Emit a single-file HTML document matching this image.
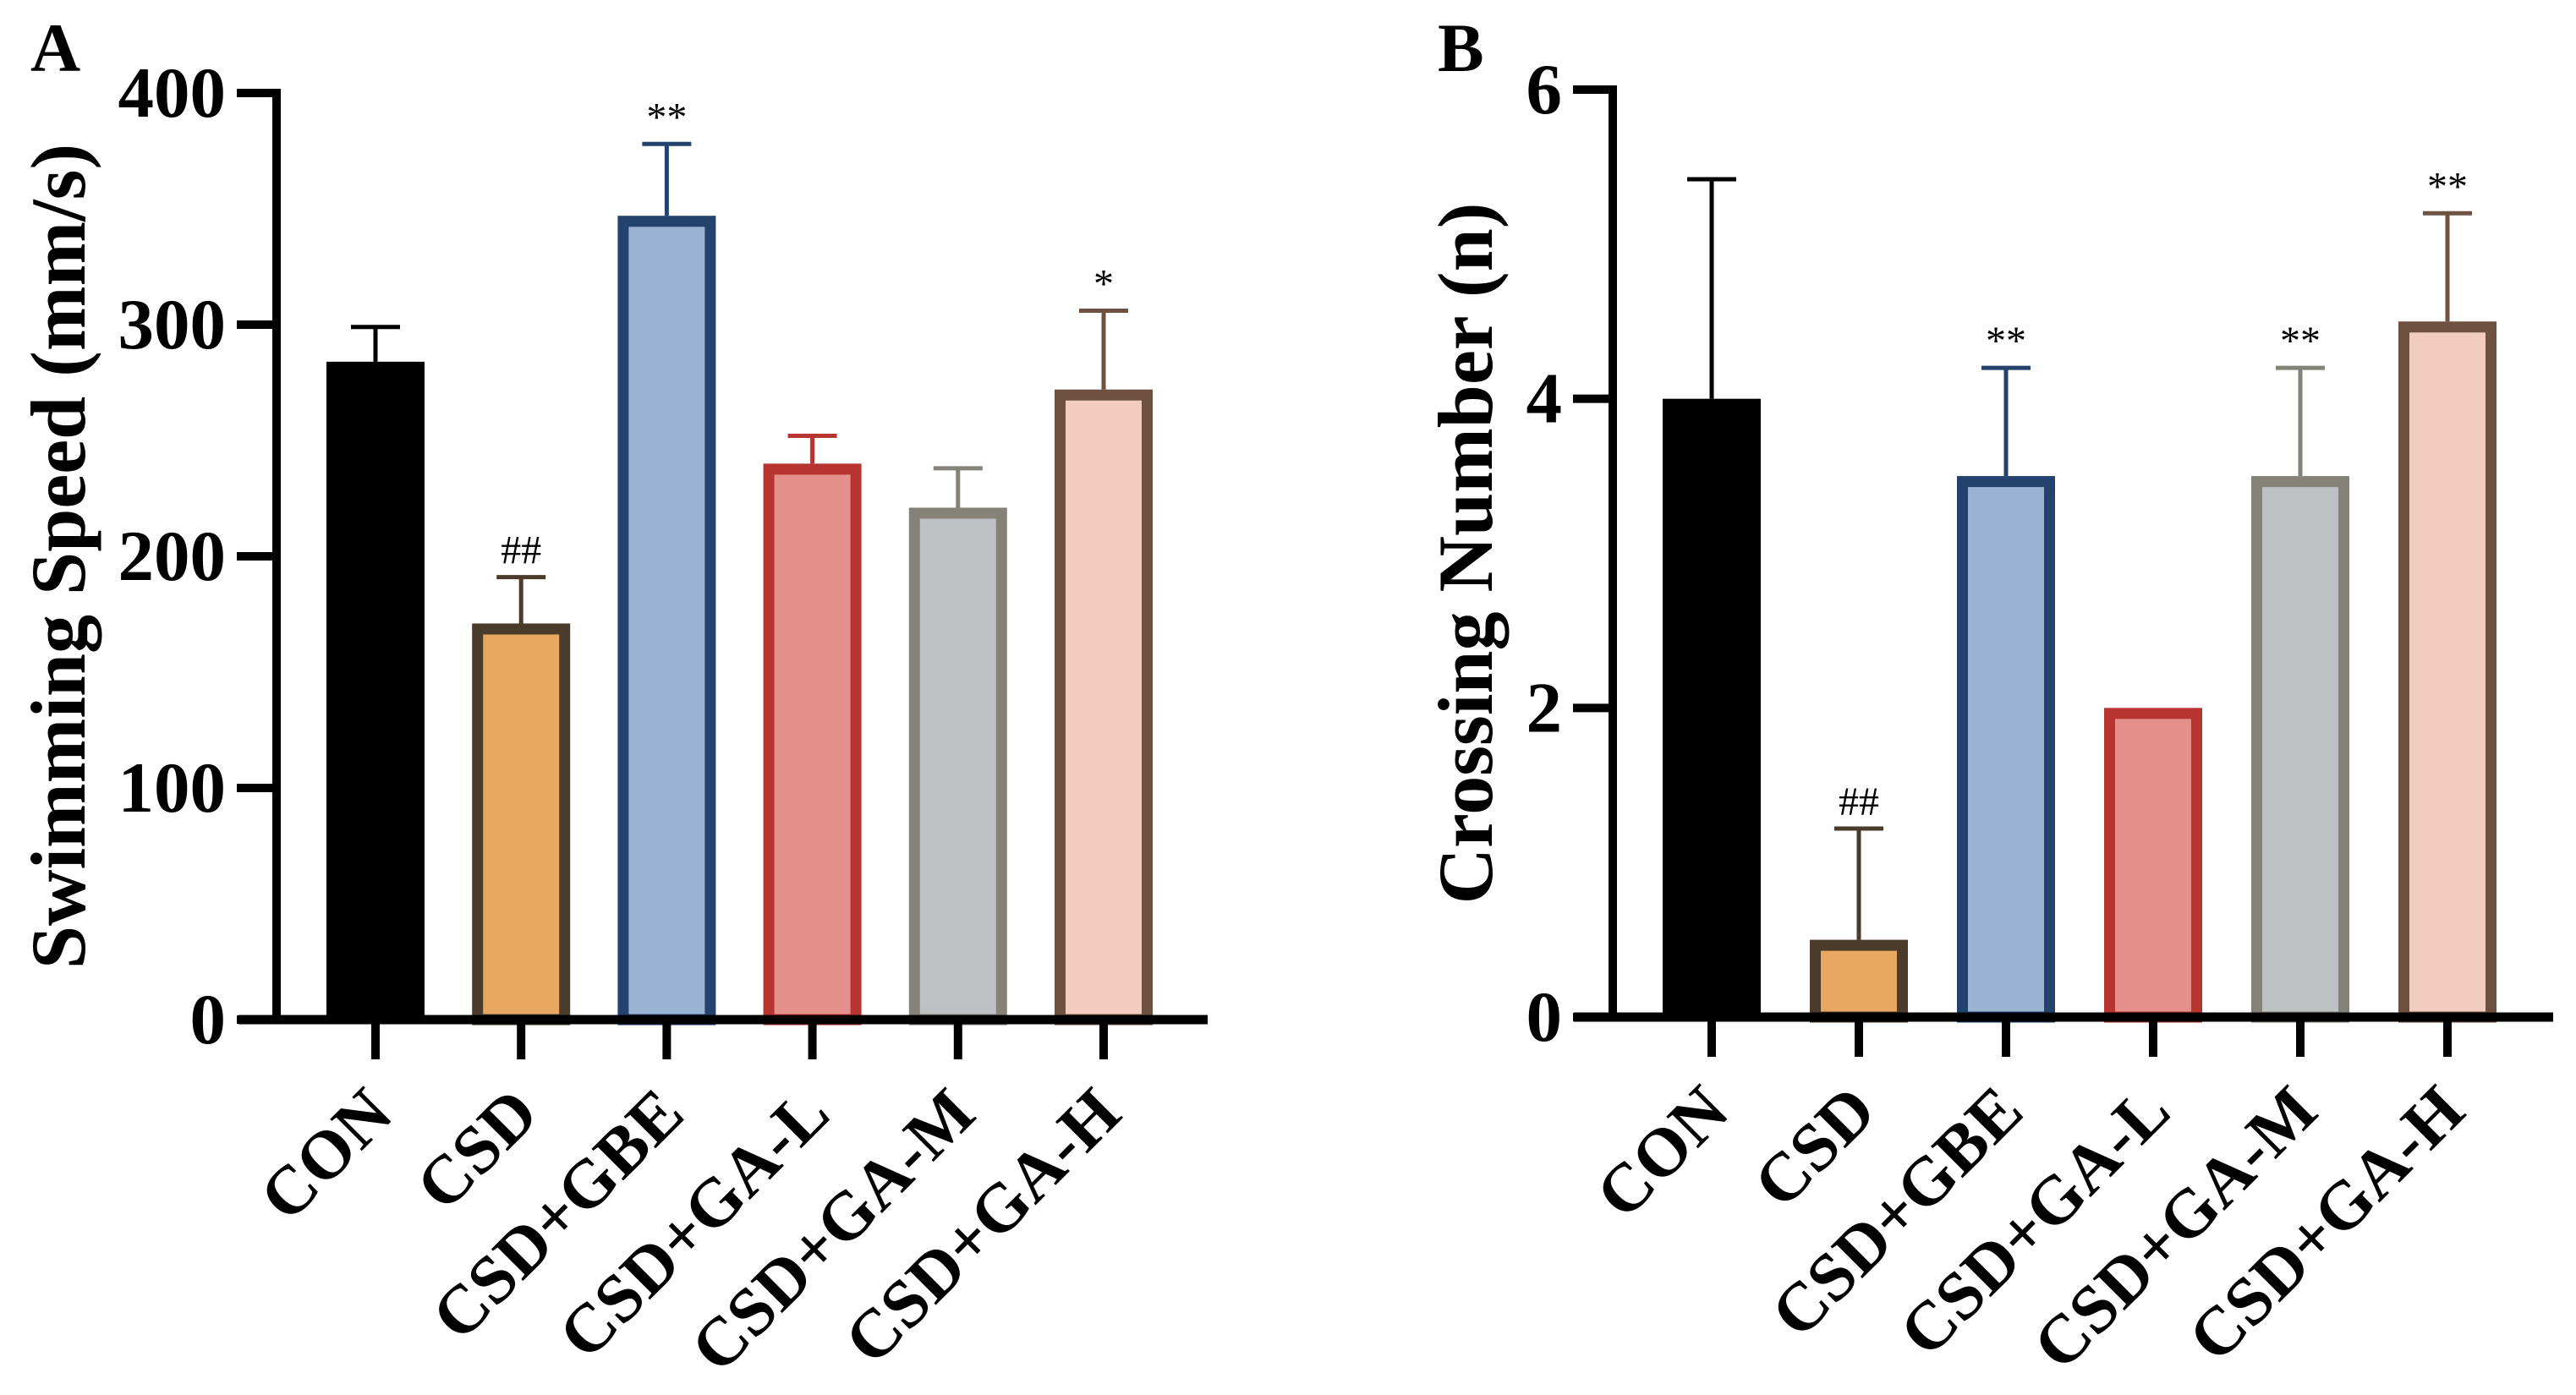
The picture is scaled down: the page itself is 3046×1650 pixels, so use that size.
<!DOCTYPE html>
<html><head><meta charset="utf-8"><style>
html,body{margin:0;padding:0;background:#fff;}
svg{display:block;}
text{font-family:"Liberation Serif","Times New Roman",serif;}
</style></head><body>
<svg id="chart" width="3046" height="1650" viewBox="0 0 3046 1650" xmlns="http://www.w3.org/2000/svg"></svg>
<script>
const categories = ["CON","CSD","CSD+GBE","CSD+GA-L","CSD+GA-M","CSD+GA-H"];
const speedMeans = [284,171,347,240,221,272];
const speedErrTops = [299,191,378,252,238,306];
const speedMarks = ["","##","**","","","*"];
const speedTicks = [0,100,200,300,400];
const crossMeans = [4.0,0.5,3.5,2.0,3.5,4.5];
const crossErrTops = [5.42,1.22,4.2,2.0,4.2,5.2];
const crossMarks = ["","##","**","","**","**"];
const crossTicks = [0,2,4,6];
const fills = ["#000000","#E8A862","#9BB3D3","#E5908A","#BEC1C4","#F2CCBF"];
const strokes = ["#000000","#4A3B2A","#23426E","#B83430","#858278","#6E5140"];

const NS="http://www.w3.org/2000/svg";
const svg=document.getElementById('chart');
function mk(tag,attrs,parent){const e=document.createElementNS(NS,tag);for(const k in attrs)e.setAttribute(k,attrs[k]);(parent||svg).appendChild(e);return e;}

function panel(cfg){
  const g=mk('g',{});
  
  
  const y0=cfg.y0, yTop=cfg.yTop;
  const yScale=v=>y0-(v-cfg.min)/(cfg.max-cfg.min)*(y0-yTop);
  const xScale=i=>cfg.x0+i*cfg.step;
  const bw=116;
  categories.forEach((c,i)=>{
    const cx=xScale(i), top=yScale(cfg.means[i]);
    if(cfg.errs[i]>cfg.means[i]){
      const ey=yScale(cfg.errs[i]);
      const eb=mk('g',{},g);
      
      
      mk('line',{x1:cx,x2:cx,y1:top,y2:ey,stroke:strokes[i],'stroke-width':5},eb);
      mk('line',{x1:cx-29,x2:cx+29,y1:ey,y2:ey,stroke:strokes[i],'stroke-width':5},eb);
    }
    const sw = i===0?0:13;
    const r=mk('rect',{x:cx-bw/2+sw/2,y:top+sw/2,width:bw-sw,height:y0-top-sw/2,fill:fills[i],stroke:strokes[i],'stroke-width':sw},g);
    
    
    if(cfg.marks[i]){
      const t=mk('text',{x:cx,y:yScale(Math.max(cfg.errs[i],cfg.means[i]))-16,'text-anchor':'middle','font-size':48},g);
      t.textContent=cfg.marks[i];
      
      
    }
    mk('line',{x1:cx,x2:cx,y1:y0,y2:y0+47,stroke:'#000','stroke-width':10},g);
    const lx=cx+24, ly=y0+115;
    const lab=mk('text',{x:lx,y:ly,'text-anchor':'end','font-size':81,'font-weight':'bold',transform:`rotate(-45 ${lx} ${ly})`},g);
    lab.textContent=c;
    
    
  });
  const ya=mk('line',{x1:cfg.ax,x2:cfg.ax,y1:yTop-5,y2:y0+5,stroke:'#000','stroke-width':10},g);
  
  
  const xa=mk('line',{x1:cfg.xStart,x2:cfg.xEnd,y1:y0,y2:y0,stroke:'#000','stroke-width':11},g);
  
  
  cfg.ticks.forEach(v=>{
    const y=yScale(v);
    mk('line',{x1:cfg.ax-47,x2:cfg.ax,y1:y,y2:y,stroke:'#000','stroke-width':10},g);
    const t=mk('text',{x:cfg.ax-60,y:y+28,'text-anchor':'end','font-size':85,'font-weight':'bold'},g);
    t.textContent=v;
    
    
  });
  const tt=mk('text',{x:0,y:0,'text-anchor':'middle','font-size':92,'font-weight':'bold',transform:`translate(${cfg.titleX} ${(y0+yTop)/2}) rotate(-90)`},g);
  tt.textContent=cfg.title;
  
  
  const pl=mk('text',{x:cfg.letterX,y:84,'font-size':82,'font-weight':'bold'},g);
  pl.textContent=cfg.letter;
  
  
}
panel({name:'panel-a-swimming-speed',means:speedMeans,errs:speedErrTops,marks:speedMarks,ticks:speedTicks,min:0,max:400,
  y0:1206,yTop:110,x0:444,step:172.2,ax:327,xStart:282,xEnd:1428,title:'Swimming Speed (mm/s)',titleX:100,letter:'A',letterX:36});
panel({name:'panel-b-crossing-number',means:crossMeans,errs:crossErrTops,marks:crossMarks,ticks:crossTicks,min:0,max:6,
  y0:1203,yTop:106,x0:2024,step:174,ax:1907,xStart:1861,xEnd:3019,title:'Crossing Number (n)',titleX:1764,letter:'B',letterX:1700});
</script>
</body></html>
